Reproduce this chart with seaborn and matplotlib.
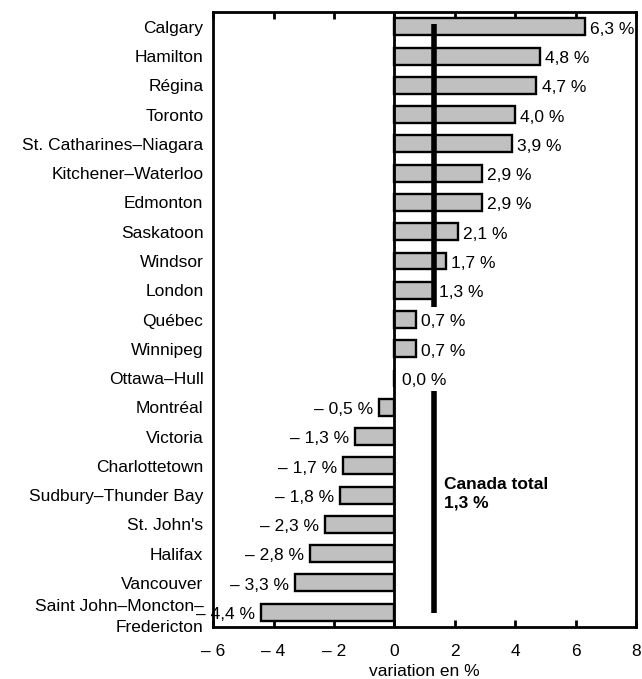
import pandas as pd
import numpy as np
import matplotlib
matplotlib.use("Agg")
import matplotlib.pyplot as plt
import seaborn as sns

cities = ["Calgary", "Hamilton", "Régina", "Toronto", "St. Catharines–Niagara",
          "Kitchener–Waterloo", "Edmonton", "Saskatoon", "Windsor", "London",
          "Québec", "Winnipeg", "Ottawa–Hull", "Montréal", "Victoria",
          "Charlottetown", "Sudbury–Thunder Bay", "St. John's", "Halifax",
          "Vancouver", "Saint John–Moncton–\nFredericton"]
variation = [6.3, 4.8, 4.7, 4.0, 3.9, 2.9, 2.9, 2.1, 1.7, 1.3,
             0.7, 0.7, 0.0, -0.5, -1.3, -1.7, -1.8, -2.3, -2.8, -3.3, -4.4]
canada_total = 1.3
xticks = [-6, -4, -2, 0, 2, 4, 6, 8]

df = pd.DataFrame({"city": cities, "var": variation})

sns.set_style("white")
plt.rcParams['font.family'] = ['Liberation Sans', 'DejaVu Sans']
plt.rcParams['text.color'] = 'black'
plt.rcParams['xtick.color'] = 'black'
plt.rcParams['ytick.color'] = 'black'
plt.rcParams['axes.labelcolor'] = 'black'

FS = 12.5

fig = plt.figure(figsize=(6.42, 6.79), dpi=100)
ax = fig.add_axes([0.332, 0.0766, 0.659, 0.9057])

sns.barplot(data=df, x="var", y="city", orient="h", color="#c0c0c0",
            edgecolor="black", linewidth=1.7, width=0.58, ax=ax, saturation=1)

def fmt(v):
    s = f"{abs(v):.1f}".replace(".", ",") + " %"
    return ("– " + s) if v < 0 else s

for i, v in enumerate(variation):
    if v > 0:
        ax.text(v + 0.17, i + 0.08, fmt(v), va="center", ha="left", fontsize=FS)
    elif v < 0:
        ax.text(v - 0.2, i + 0.08, fmt(v), va="center", ha="right", fontsize=FS)
    else:
        ax.text(0.25, i + 0.08, fmt(v), va="center", ha="left", fontsize=FS)

# zero line and Canada total line
ax.axvline(0, color="black", linewidth=2)
ax.vlines(canada_total, -0.1, 9.58, color="black", linewidth=4)
ax.vlines(canada_total, 12.44, 20.03, color="black", linewidth=4)
ax.text(1.65, 15.95, "Canada total\n1,3 %", fontweight="bold", fontsize=FS,
        va="center", ha="left", linespacing=1.3)

ax.set_xlim(-6, 8)
ax.set_ylim(20.51, -0.51)
ax.set_xticks(xticks)
ax.set_xticklabels([("– " + str(abs(t))) if t < 0 else str(t) for t in xticks],
                   fontsize=FS)
ax.set_xlabel("variation en %", fontsize=FS, labelpad=4)
ax.set_ylabel("")
ax.tick_params(axis="y", length=0, labelsize=FS, pad=7)
ax.tick_params(axis="x", direction="in", length=5, width=2, top=True,
               bottom=True, pad=12)
for lab in ax.get_yticklabels():
    lab.set_linespacing(1.5)
for s in ax.spines.values():
    s.set_visible(True)
    s.set_color("black")
    s.set_linewidth(2)

fig.savefig("out.png", dpi=100)
